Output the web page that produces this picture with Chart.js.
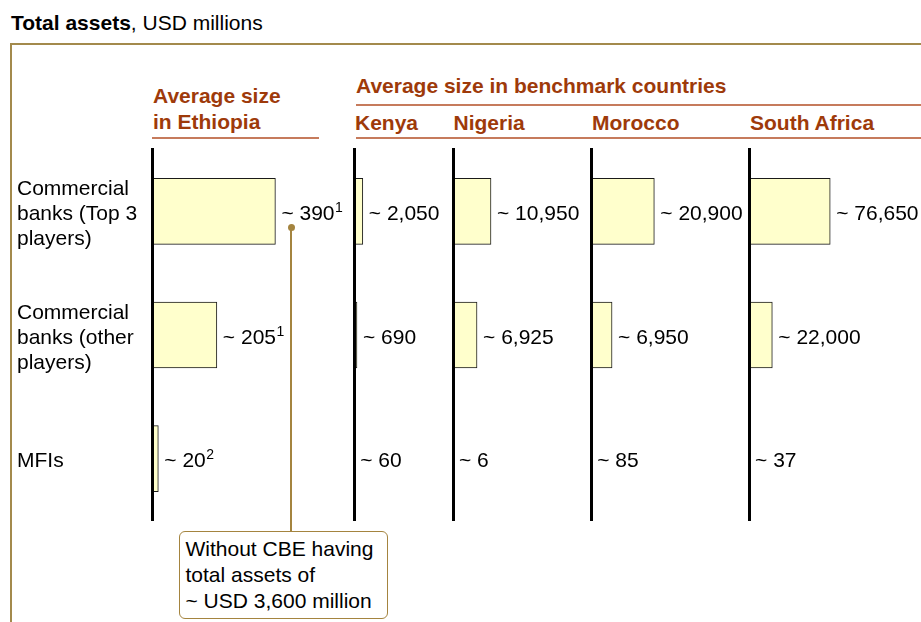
<!DOCTYPE html>
<html>
<head>
<meta charset="utf-8">
<script src="https://cdn.jsdelivr.net/npm/chart.js@4/dist/chart.umd.min.js"></script>
<style>
  html, body { margin: 0; padding: 0; background: #fff; }
  body { width: 921px; height: 622px; overflow: hidden; position: relative;
         font-family: "Liberation Sans", Arial, sans-serif; color: #000; }
  .abs { position: absolute; white-space: nowrap; }
  .txt { font-size: 21px; line-height: 25px; }
  .hdr { font-size: 21px; font-weight: bold; color: #9E3A0A; }
  .rule { position: absolute; height: 2px; background: #C67B5C; }
  canvas { position: absolute; }
</style>
</head>
<body>
<script>
// ---- data ----
const categories = [
  ['Commercial', 'banks (Top 3', 'players)'],
  ['Commercial', 'banks (other', 'players)'],
  ['MFIs']
];
const ethiopia    = [390, 205, 20];
const kenya       = [2050, 690, 60];
const nigeria     = [10950, 6925, 6];
const morocco     = [20900, 6950, 85];
const southAfrica = [76650, 22000, 37];
const ethiopiaNotes = ['1', '1', '2'];
const countryNames = ['Kenya', 'Nigeria', 'Morocco', 'South Africa'];
const axisMax = [632, 22100, 37460, 49500, 151000];
</script>

<div class="abs" style="left:0;top:0;width:921px;height:622px;">
  <div class="abs txt" style="left:11px;top:10px;"><b>Total assets</b>, USD millions</div>
  <div class="abs" style="left:10px;top:43px;width:920px;height:600px;border-top:2px solid #A38A4C;border-left:2px solid #A38A4C;"></div>

  <div class="abs hdr" style="left:153px;top:83px;line-height:26px;">Average size<br>in Ethiopia</div>
  <div class="rule" style="left:152px;top:137px;width:167px;"></div>

  <div class="abs hdr" style="left:356px;top:73px;line-height:25px;">Average size in benchmark countries</div>
  <div class="rule" style="left:356px;top:104px;width:565px;"></div>
  <div id="countries"></div>
  <div class="rule" style="left:356px;top:137px;width:565px;"></div>
</div>

<canvas id="c0" width="360" height="390" style="left:0px;top:140px;"></canvas>
<canvas id="c1" width="110" height="390" style="left:349px;top:140px;"></canvas>
<canvas id="c2" width="145" height="390" style="left:448px;top:140px;"></canvas>
<canvas id="c3" width="165" height="390" style="left:586px;top:140px;"></canvas>
<canvas id="c4" width="177" height="390" style="left:744px;top:140px;"></canvas>

<!-- callout -->
<div class="abs" style="left:290px;top:228px;width:2px;height:303px;background:#A4843F;"></div>
<div class="abs" style="left:287.5px;top:224px;width:7px;height:7px;border-radius:50%;background:#A4843F;"></div>
<div class="abs txt" style="left:179px;top:531px;width:209px;height:88px;box-sizing:border-box;border:1.5px solid #A4843F;border-radius:6px;padding:4px 0 0 5.5px;line-height:26px;background:#fff;">Without CBE having<br>total assets of<br>~ USD 3,600 million</div>

<script>
const countryLeft = [355, 453.5, 592, 750];
const cdiv = document.getElementById('countries');
countryNames.forEach((n, i) => {
  const d = document.createElement('div');
  d.className = 'abs hdr';
  d.style.left = countryLeft[i] + 'px';
  d.style.top = '110px';
  d.style.lineHeight = '25px';
  d.textContent = n;
  cdiv.appendChild(d);
});

const FONT = '"Liberation Sans", Arial, sans-serif';

const valueLabels = {
  id: 'valueLabels',
  afterDatasetsDraw(chart) {
    const ctx = chart.ctx;
    const ds = chart.data.datasets[0];
    const meta = chart.getDatasetMeta(0);
    ctx.save();
    ctx.fillStyle = '#000';
    ctx.textAlign = 'left';
    ctx.textBaseline = 'alphabetic';
    meta.data.forEach((bar, i) => {
      const v = ds.data[i];
      const txt = '~ ' + v.toLocaleString('en-US');
      const x = Math.max(bar.x, chart.chartArea.left) + 6;
      const y = bar.y + 8.5;
      ctx.font = '21px ' + FONT;
      ctx.fillText(txt, x, y);
      if (ds.notes) {
        const w = ctx.measureText(txt).width;
        ctx.font = '14px ' + FONT;
        ctx.fillText(ds.notes[i], x + w + 0.5, y - 8);
      }
    });
    ctx.restore();
  }
};

function makeChart(id, values, max, opts) {
  const showTicks = !!opts.showTicks;
  return new Chart(document.getElementById(id), {
    type: 'bar',
    data: {
      labels: categories,
      datasets: [{
        data: values,
        notes: opts.notes,
        backgroundColor: '#FFFFCC',
        borderColor: '#1A1A1A',
        borderWidth: 1,
        barThickness: 66
      }]
    },
    options: {
      indexAxis: 'y',
      responsive: false,
      animation: false,
      devicePixelRatio: 1,
      layout: { padding: { left: opts.padLeft, right: opts.padRight, top: 9.45, bottom: 9.45 } },
      plugins: { legend: { display: false }, tooltip: { enabled: false } },
      scales: {
        x: { display: false, min: 0, max: max, grid: { display: false } },
        y: {
          display: true,
          grid: { display: false, lineWidth: 0 },
          border: { display: true, color: '#000', width: 3, z: 1 },
          ticks: {
            display: showTicks,
            autoSkip: false,
            crossAlign: 'far',
            color: '#000',
            padding: 0,
            labelOffset: 3,
            font: { family: FONT, size: 21, lineHeight: 1.19 }
          },
          afterFit(scale) {
            scale.width = opts.axisWidth;
            scale.paddingTop = 0;
            scale.paddingBottom = 0;
          }
        }
      }
    },
    plugins: [valueLabels]
  });
}

makeChart('c0', ethiopia, axisMax[0], { showTicks: true, notes: ethiopiaNotes, padLeft: 17, padRight: 8, axisWidth: 135 });
makeChart('c1', kenya, axisMax[1], { padLeft: 5, padRight: 10, axisWidth: 0 });
makeChart('c2', nigeria, axisMax[2], { padLeft: 5, padRight: 10, axisWidth: 0 });
makeChart('c3', morocco, axisMax[3], { padLeft: 5, padRight: 10, axisWidth: 0 });
makeChart('c4', southAfrica, axisMax[4], { padLeft: 5, padRight: 12, axisWidth: 0 });
</script>
</body>
</html>
